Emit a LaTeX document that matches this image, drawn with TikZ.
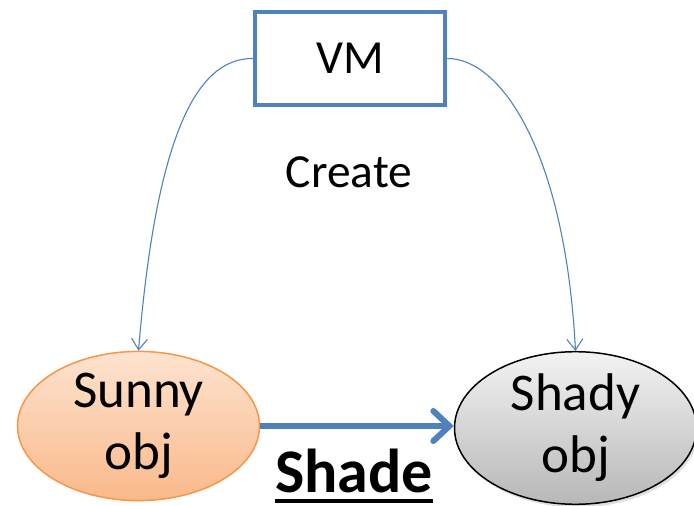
\documentclass[tikz,border=0pt]{standalone}
\usepackage{fontspec}
\setmainfont{Carlito}
\usetikzlibrary{shapes.geometric,arrows.meta,shadows}
\definecolor{accent}{HTML}{4F81BD}
\definecolor{sunnyline}{HTML}{F79646}
\definecolor{sunnytop}{HTML}{FDE3CF}
\definecolor{sunnybot}{HTML}{FAB98A}
\tikzset{
  boxnode/.style={draw=accent, line width=4.5pt, minimum width=190pt, minimum height=93pt, fill=white, font=\fontsize{47.5}{54}\selectfont},
  objnode/.style={ellipse, minimum width=242pt, minimum height=136pt, inner sep=0pt, align=center, font=\fontsize{53}{62}\selectfont, line width=1.5pt},
  sunny/.style={objnode, draw=sunnyline, top color=sunnytop, bottom color=sunnybot},
  shady/.style={objnode, draw=black, top color=white!95!black, bottom color=white!72!black, drop shadow={opacity=0.25, shadow xshift=2pt, shadow yshift=-3pt}},
  thin arrow/.style={draw=accent, line width=1.1pt, -{Straight Barb[length=11pt, width=16pt]}},
  thick arrow/.style={draw=accent, line width=6pt, -{Straight Barb[length=16pt, width=30pt, line cap=round]}},
  labeltext/.style={font=\fontsize{62}{70}\selectfont\bfseries, inner sep=0pt, anchor=base},
}
\begin{document}
\begin{tikzpicture}[x=1pt, y=-1pt]
\useasboundingbox (0,0) rectangle (694,506);
\node[boxnode] (vm) at (350,58.5) {VM};
\node[font=\fontsize{47.5}{54}\selectfont] (create) at (349,172) {Create};
\node[sunny] (sunny) at (138.5,426) {Sunny\\obj};
\node[shady] (shady) at (575.5,428) {Shady\\obj};
\draw[thin arrow] (vm.west) .. controls (195,58) and (156,140) .. (sunny.north);
\draw[thin arrow] (vm.east) .. controls (500,58) and (565,150) .. (shady.north);
\draw[thick arrow] (sunny.east |- 0,426) -- (shady.west |- 0,426);
\node[labeltext] (shade) at (354,492) {Shade};
\draw[line width=3.5pt] ([yshift=-9pt]shade.base west) -- ([yshift=-9pt]shade.base east);
\end{tikzpicture}
\end{document}
